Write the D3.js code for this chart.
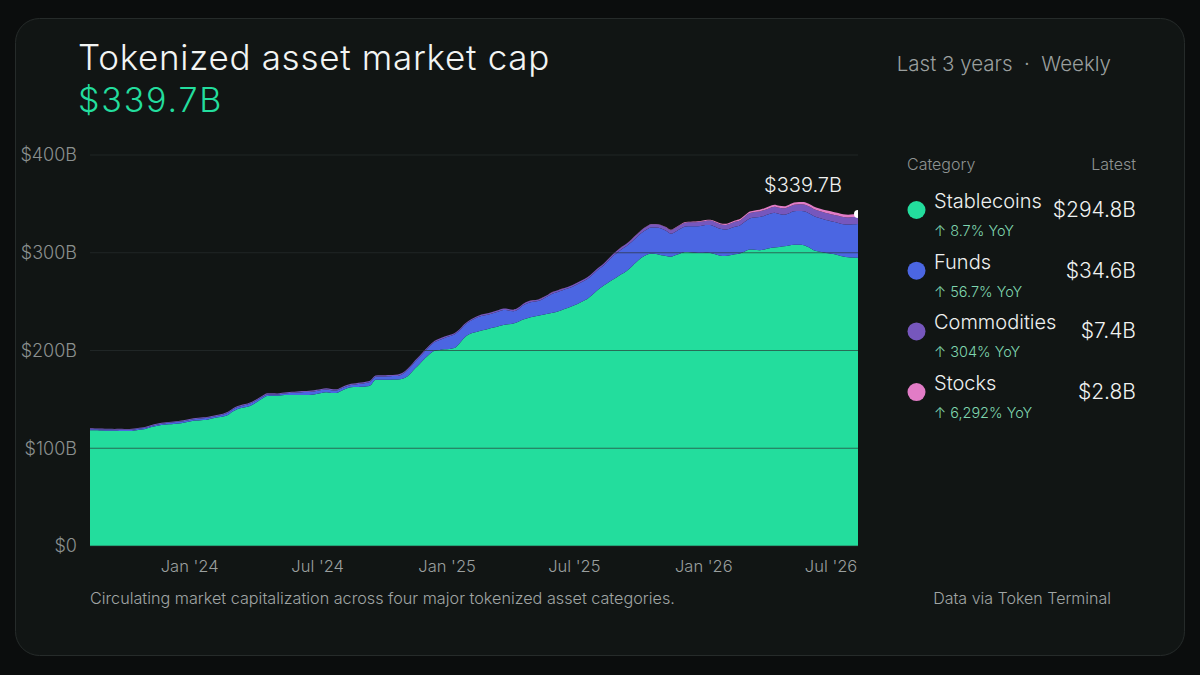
<!DOCTYPE html>
<html>
<head>
<meta charset="utf-8">
<script src="https://cdn.jsdelivr.net/npm/d3@7"></script>
<style>
  html, body { margin: 0; padding: 0; background: #0b0d0d; }
  svg { display: block; font-family: "Inter", "Noto Sans", sans-serif; }
</style>
</head>
<body>
<svg id="chart" width="1200" height="675"></svg>
<script>
// weekly points, first week starting 2023-08-13
var firstWeek = "2023-08-13";

var categories = ["Stablecoins", "Funds", "Commodities", "Stocks"];
var latestLabels = ["$294.8B", "$34.6B", "$7.4B", "$2.8B"];
var yoyLabels = ["↑ 8.7% YoY", "↑ 56.7% YoY", "↑ 304% YoY", "↑ 6,292% YoY"];

// $B, one value per week
var stablecoins = [
  118.4,118.3,118.2,118.0,118.0,117.8,117.7,117.6,117.6,118.2,
  119.0,119.5,121.0,122.3,123.3,124.0,124.5,124.9,125.3,126.0,
  127.2,128.2,128.5,128.8,129.5,130.6,131.6,132.5,134.0,137.5,
  140.2,141.5,142.4,144.5,147.5,150.8,153.5,153.6,153.7,154.2,
  154.4,154.5,154.5,154.6,154.6,154.8,155.6,156.5,157.2,156.5,
  156.4,158.5,160.8,162.4,162.6,162.9,163.2,164.5,170.0,170.1,
  170.1,170.2,170.3,170.6,172.0,176.0,181.5,186.5,191.8,196.5,
  199.8,200.6,201.2,201.6,202.5,207.0,212.8,216.5,218.4,219.8,
  221.0,222.3,223.5,224.8,226.0,226.8,227.6,229.5,231.8,233.3,
  234.5,235.6,236.6,237.6,238.7,240.0,241.8,243.5,245.4,247.6,
  250.2,252.8,256.8,261.5,265.3,268.5,271.8,275.0,278.2,281.4,
  285.8,290.5,294.8,297.6,299.3,298.6,297.5,296.8,296.0,297.6,
  299.6,300.8,300.6,300.1,299.8,300.1,299.8,298.4,297.0,296.6,
  297.4,298.5,299.3,301.4,303.2,303.0,302.6,303.4,304.5,305.3,
  305.9,306.6,307.4,308.2,308.2,307.7,305.5,302.6,301.2,300.3,
  299.5,298.6,297.5,296.2,295.4,295.1,294.8
];
var funds = [
  1.1,1.1,1.1,1.1,1.1,1.1,1.2,1.2,1.2,1.1,
  1.1,1.1,1.1,1.2,1.3,1.4,1.5,1.6,1.7,1.6,
  1.5,1.4,1.6,1.8,1.8,1.7,1.7,1.8,2.3,2.1,
  1.9,2.1,2.4,2.3,2.1,1.8,1.6,1.5,1.3,1.5,
  1.8,2.2,2.5,2.7,2.9,3.0,3.0,3.0,3.0,2.9,
  2.7,2.5,2.3,2.3,2.7,3.0,3.5,3.8,3.1,3.2,
  3.3,3.4,3.5,4.2,5.7,6.6,7.0,7.1,7.2,7.8,
  8.8,10.2,11.6,12.9,13.8,13.1,12.7,12.8,13.7,14.6,
  14.7,14.5,14.8,15.1,15.4,14.2,12.6,12.8,14.4,15.4,
  15.4,15.0,16.1,17.8,19.6,19.9,19.8,19.8,19.9,20.1,
  20.2,20.3,20.4,20.4,20.3,21.9,23.7,24.8,25.5,25.6,
  25.3,25.2,25.4,25.9,26.6,27.2,27.2,25.6,23.5,24.2,
  25.2,26.1,26.5,27.0,27.6,28.2,28.7,28.3,27.5,27.1,
  27.5,28.1,28.6,30.2,31.9,33.1,33.9,34.5,35.1,35.6,
  33.8,32.3,33.0,34.2,34.6,34.8,35.0,35.1,34.5,33.9,
  33.4,33.0,33.0,33.0,33.4,34.0,34.6
];
var commodities = [
  0.90,0.90,0.91,0.91,0.92,0.92,0.93,0.93,0.94,0.94,
  0.95,0.95,0.96,0.96,0.97,0.97,0.98,0.98,0.99,0.99,
  1.00,1.00,1.01,1.02,1.03,1.03,1.04,1.05,1.05,1.06,
  1.07,1.08,1.08,1.09,1.10,1.10,1.11,1.12,1.12,1.13,
  1.14,1.15,1.15,1.16,1.17,1.18,1.18,1.19,1.20,1.21,
  1.22,1.22,1.23,1.24,1.25,1.26,1.27,1.28,1.29,1.30,
  1.31,1.32,1.33,1.34,1.35,1.36,1.37,1.38,1.39,1.40,
  1.41,1.42,1.43,1.44,1.45,1.46,1.47,1.48,1.49,1.50,
  1.52,1.53,1.54,1.55,1.56,1.57,1.58,1.59,1.60,1.61,
  1.62,1.63,1.64,1.65,1.66,1.67,1.68,1.70,1.72,1.74,
  1.76,1.78,1.80,1.81,1.83,1.90,2.00,2.12,2.25,2.40,
  2.55,2.70,2.85,3.00,3.15,3.30,3.42,3.50,3.60,3.70,
  3.80,3.90,4.00,4.10,4.20,4.30,4.40,4.50,4.60,4.70,
  4.85,5.00,5.15,5.30,5.45,5.60,5.75,5.90,6.05,6.20,
  6.35,6.50,6.62,6.74,6.86,6.98,7.08,7.15,7.20,7.25,
  7.28,7.30,7.32,7.34,7.36,7.38,7.40
];
var stocks = [
  0,0,0,0,0,0,0,0,0,0,
  0,0,0,0,0,0,0,0,0,0,
  0,0,0,0,0,0,0,0,0,0,
  0,0,0,0,0,0,0,0,0,0,
  0,0,0,0,0,0,0,0,0,0,
  0,0,0,0,0,0,0,0,0,0,
  0,0,0,0,0,0,0,0,0,0,
  0,0,0,0,0,0,0,0,0,0,
  0.01,0.01,0.01,0.01,0.01,0.01,0.01,0.02,0.02,0.02,
  0.02,0.02,0.02,0.02,0.03,0.03,0.03,0.03,0.03,0.03,
  0.03,0.04,0.04,0.04,0.04,0.05,0.06,0.08,0.10,0.12,
  0.15,0.18,0.21,0.25,0.29,0.33,0.37,0.41,0.46,0.51,
  0.56,0.62,0.68,0.74,0.80,0.87,0.94,1.01,1.08,1.15,
  1.23,1.31,1.39,1.47,1.55,1.63,1.71,1.79,1.87,1.95,
  2.03,2.11,2.19,2.27,2.34,2.41,2.47,2.53,2.58,2.62,
  2.66,2.69,2.72,2.75,2.77,2.79,2.80
];

var colors = ["#23dd9d", "#4b66e2", "#7657bd", "#e27cc6"];
var yTicks = [0, 100, 200, 300, 400];
var xTicks = ["2024-01-01", "2024-07-01", "2025-01-01", "2025-07-01", "2026-01-01", "2026-07-01"];

var svg = d3.select("#chart");

// card
svg.append("rect")
    .attr("x", 15.5).attr("y", 18.5)
    .attr("width", 1169).attr("height", 637)
    .attr("rx", 24)
    .attr("fill", "#111514")
    .attr("stroke", "#262b2a");

// header
svg.append("text")
    .attr("x", 78).attr("y", 70)
    .attr("font-size", 35).attr("font-weight", 300)
    .attr("letter-spacing", 0.7)
    .attr("fill", "#f2f4f3")
    .text("Tokenized asset market cap");

svg.append("text")
    .attr("x", 78).attr("y", 112)
    .attr("font-size", 34).attr("font-weight", 300)
    .attr("letter-spacing", 1.8)
    .attr("fill", "#23dd9d")
    .text("$339.7B");

svg.append("text")
    .attr("x", 1111).attr("y", 71)
    .attr("text-anchor", "end")
    .attr("font-size", 20.5).attr("font-weight", 300)
    .attr("fill", "#9a9f9e")
    .attr("xml:space", "preserve")
    .style("white-space", "pre")
    .text("Last 3 years  ·  Weekly");

// build the table for the stack
var parseDay = d3.timeParse("%Y-%m-%d");
var start = parseDay(firstWeek);
var keys = ["stablecoins", "funds", "commodities", "stocks"];
var data = stablecoins.map(function(v, i) {
  return {
    date: d3.timeWeek.offset(start, i),
    stablecoins: v,
    funds: funds[i],
    commodities: commodities[i],
    stocks: stocks[i]
  };
});

var stacked = d3.stack().keys(keys)(data);

var plot = {left: 90, right: 858, top: 155, bottom: 546};

var x = d3.scaleTime()
    .domain(d3.extent(data, function(d) { return d.date; }))
    .range([plot.left, plot.right]);
var y = d3.scaleLinear()
    .domain([0, 400])
    .range([plot.bottom, plot.top]);

svg.append("clipPath").attr("id", "plotclip")
  .append("rect")
    .attr("x", plot.left).attr("y", plot.top - 40)
    .attr("width", plot.right - plot.left)
    .attr("height", plot.bottom - plot.top + 40);

var area = d3.area()
    .curve(d3.curveMonotoneX)
    .x(function(d) { return x(d.data.date); })
    .y0(function(d) { return y(d[0]); })
    .y1(function(d) { return y(d[1]); });

var g = svg.append("g").attr("clip-path", "url(#plotclip)");

g.selectAll("path.layer")
    .data(stacked)
  .enter().append("path")
    .attr("class", "layer")
    .attr("fill", function(d, i) { return colors[i]; })
    .attr("d", area);

// grid lines over the areas
svg.append("g")
  .selectAll("line")
    .data(yTicks)
  .enter().append("line")
    .attr("x1", plot.left).attr("x2", plot.right)
    .attr("y1", function(d) { return y(d); })
    .attr("y2", function(d) { return y(d); })
    .attr("stroke", "#2a302f")
    .attr("stroke-opacity", 0.65)
    .attr("stroke-width", 1.2);

// Y axis
var yAxis = svg.append("g")
    .attr("transform", "translate(" + plot.left + ",0)")
    .call(d3.axisLeft(y).tickValues(yTicks)
      .tickSize(0).tickPadding(13)
      .tickFormat(function(d) { return d === 0 ? "$0" : "$" + d + "B"; }));
yAxis.select(".domain").remove();
yAxis.selectAll("text")
    .attr("font-size", 18).attr("font-weight", 300)
    .attr("font-family", "Inter, sans-serif")
    .attr("fill", "#8b908f");

// X axis
var fmt = d3.timeFormat("%b '%y");
var xAxis = svg.append("g")
    .attr("transform", "translate(0," + plot.bottom + ")")
    .call(d3.axisBottom(x).tickValues(xTicks.map(parseDay))
      .tickSize(0).tickPadding(14)
      .tickFormat(fmt));
xAxis.select(".domain").remove();
xAxis.selectAll("text")
    .attr("font-size", 16.5).attr("font-weight", 300)
    .attr("font-family", "Inter, sans-serif")
    .attr("fill", "#9a9f9e");

// end point and label
var last = stacked[stacked.length - 1][data.length - 1];
g.append("circle")
    .attr("cx", x(last.data.date))
    .attr("cy", y(last[1]))
    .attr("r", 4)
    .attr("fill", "#ffffff");

svg.append("text")
    .attr("x", x(last.data.date) - 16)
    .attr("y", y(last[1]) - 22)
    .attr("text-anchor", "end")
    .attr("font-size", 20).attr("font-weight", 300)
    .attr("fill", "#eef0ef")
    .text("$339.7B");

// legend
svg.append("text")
    .attr("x", 907).attr("y", 170)
    .attr("font-size", 16).attr("font-weight", 300)
    .attr("fill", "#8e9392")
    .text("Category");
svg.append("text")
    .attr("x", 1136).attr("y", 170)
    .attr("text-anchor", "end")
    .attr("font-size", 16).attr("font-weight", 300)
    .attr("fill", "#8e9392")
    .text("Latest");

var rows = svg.append("g").selectAll("g")
    .data(categories)
  .enter().append("g")
    .attr("transform", function(d, i) { return "translate(0," + (210 + i * 60.7) + ")"; });

rows.append("circle")
    .attr("cx", 916.5).attr("cy", 0).attr("r", 9)
    .attr("fill", function(d, i) { return colors[i]; });

rows.append("text")
    .attr("x", 934).attr("y", -2)
    .attr("font-size", 20).attr("font-weight", 300)
    .attr("fill", "#eef0ef")
    .text(function(d) { return d; });

rows.append("text")
    .attr("x", 934).attr("y", 26)
    .attr("font-size", 14.5).attr("font-weight", 300)
    .attr("fill", "#7fd5af")
    .text(function(d, i) { return yoyLabels[i]; });

rows.append("text")
    .attr("x", 1136).attr("y", 7)
    .attr("text-anchor", "end")
    .attr("font-size", 21).attr("font-weight", 300)
    .attr("fill", "#f0f2f1")
    .text(function(d, i) { return latestLabels[i]; });

// footer
svg.append("text")
    .attr("x", 90).attr("y", 604)
    .attr("font-size", 16.2).attr("font-weight", 300)
    .attr("fill", "#a0a5a4")
    .text("Circulating market capitalization across four major tokenized asset categories.");
svg.append("text")
    .attr("x", 1111).attr("y", 604)
    .attr("text-anchor", "end")
    .attr("font-size", 16).attr("font-weight", 300)
    .attr("fill", "#a0a5a4")
    .text("Data via Token Terminal");
</script>
</body>
</html>
